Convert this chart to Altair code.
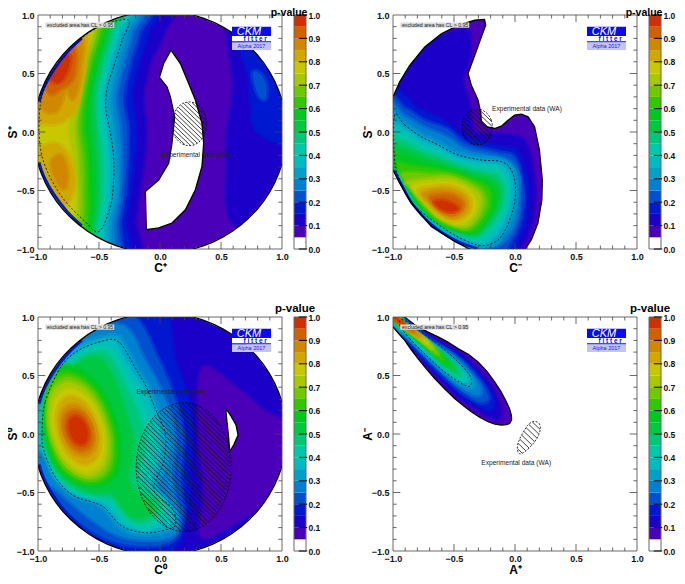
import altair as alt
import pandas as pd

FONT = "Liberation Sans"
LEVEL_COLORS = {
    5: "#4a00b8", 10: "#1a00c8", 15: "#0018d0", 20: "#0050d0", 25: "#0080d0", 30: "#00a0c8",
    35: "#00bcc0", 40: "#00c8a8", 45: "#00c878", 50: "#00c840", 55: "#00c820", 60: "#30c800",
    65: "#70c800", 70: "#a8c800", 75: "#c8c800", 80: "#d0a800", 85: "#d08800", 90: "#d06000", 95: "#d03000",
}
CIRCLE = [(-1.035,0),(-1.019,-.18),(-.973,-.354),(-.896,-.518),(-.793,-.665),(-.665,-.793),(-.518,-.896),(-.354,-.973),(-.18,-1.019),
          (0,-1.035),(.18,-1.019),(.354,-.973),(.518,-.896),(.665,-.793),(.793,-.665),(.896,-.518),(.973,-.354),(1.019,-.18),
          (1.035,0),(1.019,.18),(.973,.354),(.896,.518),(.793,.665),(.665,.793),(.518,.896),(.354,.973),(.18,1.019),
          (0,1.035),(-.18,1.019),(-.354,.973),(-.518,.896),(-.665,.793),(-.793,.665),(-.896,.518),(-.973,.354),(-1.019,.18)]
RIM_TOP = [(-.99,.26),(-.95,.38),(-.87,.53),(-.76,.68),(-.64,.8)]
RIM_BOTTOM = [(-.99,-.26),(-.95,-.38),(-.87,-.53),(-.76,-.68),(-.64,-.8)]

# ---------- panel 1 ----------
P1_Y = [1.15,.85,.6,.3,.05,-.2,-.5,-.75,-1.15]
P1_CURVES = {
    10: [.02,.03,-.08,-.14,-.12,-.13,-.17,-.2,-.26],
    15: [-.08,-.1,-.17,-.23,-.2,-.21,-.24,-.28,-.34],
    20: [-.14,-.17,-.24,-.3,-.27,-.27,-.29,-.33,-.42],
    25: [-.2,-.23,-.3,-.36,-.33,-.32,-.33,-.37,-.48],
    30: [-.25,-.28,-.35,-.41,-.38,-.36,-.36,-.41,-.53],
    35: [-.3,-.33,-.4,-.46,-.44,-.41,-.41,-.45,-.57],
    40: [-.33,-.36,-.43,-.49,-.47,-.44,-.44,-.48,-.6],
    45: [-.36,-.39,-.46,-.52,-.51,-.48,-.48,-.51,-.63],
    50: [-.39,-.42,-.49,-.55,-.54,-.52,-.51,-.54,-.66],
    55: [-.42,-.45,-.52,-.58,-.58,-.56,-.55,-.57,-.69],
    60: [-.45,-.48,-.55,-.61,-.63,-.6,-.59,-.6,-.72],
    65: [-.48,-.51,-.58,-.64,-.67,-.64,-.63,-.64,-.75],
    70: [-.51,-.54,-.61,-.66,-.7,-.68,-.67,-.68,-.79],
    75: [-.54,-.57,-.64,-.69,-.76,-.73,-.7,-.72,-.83],
}
P1_ISLANDS = [
    (10,[(.55,.95),(.6,.4),(.55,0),(.55,-.3),(.55,-.65),(.65,-.8),(.85,-.55),(1.1,-.2),(1.2,.3),(1.0,.8),(.75,.95)]),
    (15,[(.65,.75),(.72,.5),(.75,.2),(.8,0),(1.1,-.1),(1.2,.3),(.98,.65),(.8,.8)]),
    (20,[(.76,.5),(.8,.33),(.86,.28),(.87,.4),(.82,.5)]),
    (80,[(-1.1,.6),(-.78,.83),(-.6,.88),(-.61,.6),(-.64,.4),(-.69,.2),(-.78,.1),(-.85,.07),(-.94,.07),(-1.1,.1)]),
    (85,[(-1.1,.6),(-.8,.8),(-.64,.8),(-.65,.55),(-.68,.35),(-.72,.28),(-.77,.36),(-.82,.22),(-.87,.17),(-.97,.22)]),
    (90,[(-.97,.5),(-.85,.72),(-.7,.72),(-.7,.5),(-.74,.42),(-.8,.38),(-.9,.33)]),
    (95,[(-.92,.55),(-.82,.66),(-.74,.65),(-.76,.52),(-.82,.43),(-.89,.44)]),
    (80,[(-.98,-.15),(-.85,-.1),(-.75,-.2),(-.7,-.4),(-.73,-.56),(-.8,-.62),(-.88,-.5),(-.96,-.3)]),
    (85,[(-.89,-.25),(-.81,-.2),(-.76,-.33),(-.77,-.47),(-.82,-.47),(-.87,-.37)]),
]
P1_HOLE = [(.09,.70),(.167,.585),(.235,.415),(.29,.273),(.344,.074),(.358,-.097),(.344,-.295),(.29,-.494),(.208,-.665),(.098,-.778),
           (-.011,-.82),(-.112,-.835),(-.12,-.508),(-.011,-.41),(.071,-.267),(.098,-.097),(.12,.13),(.085,.30),(.057,.386),(-.005,.466),(.03,.585)]
P1_DASH = [(-.257,.955),(-.31,.78),(-.38,.557),(-.434,.372),(-.443,.19),(-.407,-.01),(-.38,-.21),(-.38,-.41),(-.407,-.636),(-.5,-.85),
           (-.62,-.76),(-.8,-.56),(-.93,-.32),(-.985,-.1),(-.985,.2),(-.93,.42),(-.8,.63),(-.62,.82),(-.45,.92)]
P1_ELLIPSE = [(.383,.07),(.372,.142),(.341,.202),(.295,.243),(.24,.257),(.185,.243),(.139,.202),(.108,.142),(.097,.07),(.108,-.002),
              (.139,-.062),(.185,-.103),(.24,-.117),(.295,-.103),(.341,-.062),(.372,-.002)]

# ---------- panel 2 ----------
P2_OUTLINE = [(-1.03,.33),(-1,.30),(-.945,.43),(-.863,.57),(-.74,.727),(-.604,.84),(-.467,.912),(-.33,.955),(-.25,.963),(-.24,.912),(-.276,.8125),
              (-.33,.656),(-.385,.5),(-.358,.40),(-.303,.273),(-.28,.159),(-.276,.088),(-.235,.045),(-.167,.03),(-.112,.05),(-.057,.10),
              (-.003,.145),(.052,.153),(.107,.13),(.16,.045),(.2,-.153),(.224,-.41),(.22,-.58),(.188,-.778),(.134,-.92),(.065,-1.03),
              (-.317,-1.03),(-.495,-.935),(-.686,-.807),(-.85,-.608),(-.945,-.4375),(-1,-.324),(-1.03,-.3)]
P2_LEVELS = [
    (10,[(-1.1,.4),(-.9,.62),(-.7,.78),(-.5,.86),(-.38,.86),(-.38,.62),(-.43,.45),(-.38,.25),(-.36,.08),(-.33,-.01),(-.2,-.02),(0,-.03),(.09,-.1),(.14,-.3),(.16,-.55),(.13,-.8),(.06,-.95),(-.1,-1.1),(-1.1,-1.1)]),
    (15,[(-1.1,.33),(-.9,.3),(-.8,.2),(-.6,.1),(-.4,-.05),(-.15,-.12),(0,-.15),(.05,-.25),(.1,-.45),(.09,-.7),(.03,-.9),(-.1,-1.1),(-1.1,-1.1)]),
    (20,[(-1.1,.26),(-.9,.2),(-.75,.1),(-.55,.02),(-.4,-.1),(-.15,-.17),(-.02,-.2),(.03,-.3),(.06,-.47),(.05,-.7),(-.02,-.9),(-.2,-1.05),(-1.1,-1.1)]),
    (25,[(-1.1,.21),(-.9,.13),(-.75,.04),(-.55,-.05),(-.4,-.15),(-.15,-.21),(-.05,-.25),(.02,-.35),(.03,-.48),(.02,-.68),(-.05,-.87),(-.25,-1.0),(-1.1,-1.1)]),
    (30,[(-1.15,.17),(-.99,.15),(-.9,.07),(-.77,-.02),(-.63,-.09),(-.47,-.18),(-.28,-.22),(-.11,-.24),(-.02,-.31),(.01,-.46),(-.01,-.67),(-.1,-.87),(-.28,-1.0),(-1.15,-1.15)]),
    (35,[(-1.15,.1),(-1,.08),(-.9,.02),(-.77,-.07),(-.63,-.13),(-.47,-.22),(-.28,-.26),(-.13,-.28),(-.06,-.34),(-.03,-.47),(-.05,-.66),(-.13,-.84),(-.25,-.95),(-.42,-.91),(-.63,-.80),(-.84,-.62),(-.95,-.42),(-1.1,-.3)]),
    (40,[(-1.1,.03),(-.9,-.03),(-.77,-.11),(-.63,-.17),(-.47,-.25),(-.28,-.29),(-.15,-.31),(-.09,-.37),(-.06,-.48),(-.08,-.65),(-.16,-.81),(-.28,-.92),(-.42,-.89),(-.63,-.79),(-.83,-.61),(-.94,-.41),(-1.1,-.3)]),
    (45,[(-1.1,-.03),(-.9,-.09),(-.77,-.16),(-.63,-.21),(-.47,-.28),(-.3,-.33),(-.18,-.35),(-.12,-.4),(-.09,-.49),(-.11,-.64),(-.19,-.78),(-.3,-.89),(-.42,-.875),(-.63,-.78),(-.82,-.6),(-.93,-.41),(-1.1,-.3)]),
    (50,[(-1.1,-.09),(-.9,-.14),(-.77,-.2),(-.63,-.25),(-.47,-.31),(-.32,-.36),(-.2,-.39),(-.15,-.43),(-.12,-.5),(-.14,-.63),(-.21,-.76),(-.31,-.87),(-.43,-.865),(-.63,-.77),(-.81,-.6),(-.92,-.4),(-1.1,-.27)]),
    (55,[(-1.05,-.17),(-.9,-.2),(-.77,-.25),(-.62,-.29),(-.47,-.34),(-.33,-.39),(-.23,-.42),(-.18,-.47),(-.16,-.53),(-.17,-.63),(-.24,-.75),(-.32,-.85),(-.43,-.85),(-.63,-.76),(-.8,-.59),(-.91,-.4)]),
    (60,[(-.96,-.27),(-.85,-.29),(-.72,-.31),(-.6,-.33),(-.47,-.36),(-.35,-.41),(-.26,-.45),(-.21,-.5),(-.2,-.56),(-.21,-.65),(-.26,-.74),(-.33,-.83),(-.43,-.835),(-.63,-.75),(-.79,-.58),(-.9,-.4)]),
    (65,[(-.93,-.36),(-.82,-.35),(-.7,-.36),(-.58,-.36),(-.46,-.39),(-.35,-.44),(-.28,-.49),(-.25,-.54),(-.24,-.6),(-.26,-.67),(-.31,-.76),(-.38,-.82),(-.46,-.82),(-.63,-.74),(-.78,-.58),(-.88,-.44)]),
    (70,[(-.89,-.43),(-.8,-.41),(-.68,-.4),(-.55,-.39),(-.45,-.42),(-.36,-.47),(-.3,-.52),(-.28,-.58),(-.29,-.64),(-.32,-.72),(-.38,-.79),(-.47,-.8),(-.62,-.73),(-.77,-.58),(-.85,-.47)]),
    (75,[(-.84,-.47),(-.75,-.44),(-.63,-.43),(-.53,-.43),(-.44,-.46),(-.37,-.51),(-.33,-.57),(-.32,-.63),(-.35,-.7),(-.4,-.76),(-.48,-.78),(-.62,-.72),(-.75,-.58)]),
    (80,[(-.79,-.5),(-.68,-.47),(-.56,-.46),(-.46,-.49),(-.39,-.54),(-.36,-.6),(-.37,-.67),(-.42,-.73),(-.5,-.75),(-.62,-.7),(-.73,-.59)]),
    (85,[(-.75,-.53),(-.65,-.5),(-.55,-.5),(-.46,-.53),(-.41,-.58),(-.4,-.64),(-.44,-.7),(-.52,-.73),(-.62,-.68),(-.7,-.6)]),
    (90,[(-.7,-.56),(-.62,-.54),(-.54,-.54),(-.47,-.57),(-.43,-.62),(-.46,-.68),(-.53,-.7),(-.62,-.66)]),
    (95,[(-.66,-.6),(-.58,-.59),(-.5,-.62),(-.47,-.66),(-.53,-.68),(-.6,-.66)]),
]
P2_DASH = [(-.986,.145),(-.904,.06),(-.768,-.04),(-.63,-.11),(-.467,-.196),(-.276,-.239),(-.112,-.253),(-.03,-.324),(.003,-.466),(-.016,-.665),
           (-.112,-.892),(-.249,-.97),(-.413,-.925),(-.63,-.79),(-.85,-.6),(-.95,-.4),(-.99,-.2)]
P2_RIM = [(-.99,-.33),(-.935,-.44),(-.84,-.615),(-.68,-.795),(-.49,-.925),(-.31,-.995)]
P2_ELLIPSE = [(-.185,.043),(-.195,.102),(-.222,.151),(-.262,.184),(-.31,.196),(-.358,.184),(-.398,.151),(-.425,.102),(-.435,.043),(-.425,-.016),
              (-.398,-.065),(-.358,-.098),(-.31,-.11),(-.262,-.098),(-.222,-.065),(-.195,-.016)]

# ---------- panel 3 ----------
P3_LEVELS = [
    (5,[(.344,.56),(.62,.4),(.85,.2),(1.1,.02),(1.1,-.4),(.7,-.7),(.344,-.88),(.36,-.5),(.32,0)]),
    (15,[(-1.2,.3),(-.85,.85),(-.3,1.15),(.02,1.15),(.12,.65),(.23,.3),(.26,0),(.24,-.4),(.22,-.72),(.1,-.98),(-.3,-1.0),(-.6,-.87),(-.9,-.6),(-1.2,-.3)]),
    (20,[(-1.2,.3),(-.75,.88),(-.25,1.02),(-.02,.65),(.12,.3),(.19,0),(.17,-.4),(.19,-.72),(.07,-.93),(-.3,-.94),(-.6,-.8),(-.9,-.52),(-1.2,-.2)]),
    (25,[(-1.2,.3),(-.75,.8),(-.32,.93),(-.12,.62),(.04,.3),(.12,0),(.1,-.4),(.16,-.75),(.06,-.89),(-.3,-.88),(-.57,-.72),(-.87,-.46),(-1.2,-.2)]),
    (30,[(-1.2,.2),(-.95,.32),(-.8,.62),(-.64,.77),(-.42,.84),(-.33,.82),(-.27,.72),(-.18,.55),(-.09,.4),(-.02,.22),(.06,0),(.05,-.24),(-.03,-.47),(.11,-.63),(.13,-.78),(.05,-.83),(-.12,-.86),(-.31,-.81),(-.45,-.65),(-.53,-.59),(-.72,-.52),(-.87,-.37),(-.97,-.15),(-1.2,-.1)]),
    (35,[(-1.2,.1),(-.93,.26),(-.78,.6),(-.62,.74),(-.44,.8),(-.36,.78),(-.31,.68),(-.22,.52),(-.13,.38),(-.06,.2),(.0,0),(-.01,-.22),(-.07,-.42),(.03,-.55),(.09,-.66),(.08,-.77),(-.02,-.8),(-.13,-.83),(-.3,-.77),(-.43,-.62),(-.52,-.57),(-.71,-.5),(-.86,-.36),(-.96,-.14)]),
    (40,[(-.97,.04),(-.95,.27),(-.8,.56),(-.62,.7),(-.46,.75),(-.39,.72),(-.33,.63),(-.26,.48),(-.18,.34),(-.11,.17),(-.06,0),(-.07,-.22),(-.12,-.4),(-.03,-.51),(.04,-.62),(.03,-.71),(-.05,-.77),(-.15,-.8),(-.28,-.74),(-.41,-.59),(-.52,-.55),(-.7,-.49),(-.85,-.35),(-.95,-.13)]),
    (45,[(-.96,.04),(-.94,.24),(-.79,.53),(-.62,.67),(-.48,.7),(-.41,.66),(-.35,.55),(-.28,.4),(-.22,.27),(-.17,.12),(-.14,0),(-.15,-.2),(-.19,-.38),(-.1,-.5),(-.01,-.58),(-.01,-.67),(-.08,-.73),(-.17,-.76),(-.28,-.7),(-.39,-.55),(-.52,-.53),(-.69,-.47),(-.84,-.34),(-.94,-.12)]),
    (50,[(-.95,.04),(-.93,.2),(-.78,.5),(-.62,.63),(-.5,.65),(-.42,.55),(-.36,.42),(-.31,.28),(-.27,.13),(-.23,0),(-.23,-.2),(-.26,-.38),(-.18,-.52),(-.07,-.58),(-.05,-.65),(-.12,-.7),(-.22,-.71),(-.31,-.62),(-.4,-.5),(-.52,-.5),(-.68,-.45),(-.82,-.33),(-.93,-.1)]),
    (55,[(-.34,.03),(-.514,.428),(-.782,.59),(-.93,.428),(-.94,.03),(-.826,-.31),(-.56,-.44),(-.36,-.34)]),
    (60,[(-.38,.03),(-.535,.385),(-.77,.53),(-.92,.385),(-.93,.03),(-.805,-.29),(-.57,-.42),(-.393,-.31)]),
    (65,[(-.41,.03),(-.55,.357),(-.762,.49),(-.9,.357),(-.91,.03),(-.79,-.27),(-.578,-.39),(-.42,-.28)]),
    (70,[(-.44,.03),(-.565,.321),(-.752,.44),(-.892,.321),(-.9,.03),(-.775,-.25),(-.588,-.36),(-.448,-.25)]),
    (75,[(-.47,.03),(-.578,.279),(-.74,.38),(-.862,.279),(-.87,.03),(-.762,-.219),(-.6,-.32),(-.478,-.219)]),
    (80,[(-.5,.03),(-.592,.236),(-.728,.32),(-.832,.236),(-.84,.03),(-.748,-.176),(-.612,-.26),(-.508,-.176)]),
    (85,[(-.53,.03),(-.602,.186),(-.714,.25),(-.801,.186),(-.81,.03),(-.738,-.126),(-.626,-.19),(-.539,-.126)]),
    (90,[(-.56,.03),(-.616,.151),(-.704,.2),(-.772,.151),(-.78,.03),(-.724,-.091),(-.636,-.14),(-.568,-.091)]),
    (95,[(-.595,.03),(-.634,.115),(-.694,.15),(-.74,.115),(-.745,.03),(-.706,-.055),(-.646,-.09),(-.6,-.055)]),
]
P3_HOLE = [(.544,.213),(.577,.162),(.623,.077),(.64,-.009),(.604,-.094),(.571,-.15),(.563,-.037),(.549,.105),(.541,.19)]
P3_DASH = [(-.967,0),(-.94,.276),(-.803,.588),(-.64,.73),(-.42,.807),(-.34,.787),(-.284,.716),(-.2,.56),(-.12,.418),(-.04,.219),(.044,0),(.03,-.236),
           (-.05,-.477),(.1,-.634),(.125,-.776),(.044,-.82),(-.12,-.844),(-.31,-.79),(-.45,-.634),(-.53,-.59),(-.72,-.52),(-.86,-.364),(-.95,-.15)]
P3_ELLIPSE = [(.585,-.283),(.555,-.072),(.471,.106),(.344,.225),(.195,.267),(.046,.225),(-.081,.106),(-.165,-.072),(-.195,-.283),(-.165,-.494),
              (-.081,-.672),(.046,-.791),(.195,-.833),(.344,-.791),(.471,-.672),(.555,-.494)]

# ---------- panel 4 ----------
P4_OUTLINE = [(-1.03,.89),(-1,.915),(-.95,.855),(-.904,.80),(-.85,.72),(-.795,.645),(-.725,.555),(-.658,.474),(-.575,.385),(-.495,.304),(-.425,.243),(-.358,.19),
              (-.29,.143),(-.221,.105),(-.165,.085),(-.112,.077),(-.07,.08),(-.044,.09),(-.028,.12),(-.03,.162),(-.045,.215),(-.071,.276),(-.115,.363),(-.167,.446),
              (-.23,.535),(-.303,.616),(-.38,.68),(-.467,.73),(-.55,.785),(-.63,.83),(-.70,.865),(-.768,.90),(-.83,.94),(-.89,.986),(-.92,1.03),(-1.03,1.03)]
P4_LEVELS = [
    (10,[(-1.05,.93),(-.9,.81),(-.78,.66),(-.64,.5),(-.48,.33),(-.34,.23),(-.22,.15),(-.14,.13),(-.12,.2),(-.16,.34),(-.26,.5),(-.4,.65),(-.56,.76),(-.72,.85),(-.86,.95),(-.95,1.05)]),
    (15,[(-1.05,.93),(-.9,.82),(-.77,.67),(-.63,.52),(-.47,.36),(-.34,.27),(-.24,.21),(-.18,.22),(-.18,.3),(-.24,.43),(-.33,.55),(-.44,.65),(-.58,.74),(-.73,.83),(-.87,.93),(-.95,1.05)]),
    (20,[(-1.05,.93),(-.9,.83),(-.76,.68),(-.62,.53),(-.46,.38),(-.35,.3),(-.27,.27),(-.22,.3),(-.24,.38),(-.31,.48),(-.4,.59),(-.5,.68),(-.62,.76),(-.75,.85),(-.88,.95),(-.96,1.05)]),
    (25,[(-1.05,.93),(-.9,.84),(-.75,.69),(-.61,.55),(-.46,.41),(-.37,.35),(-.3,.33),(-.28,.38),(-.31,.45),(-.38,.54),(-.47,.64),(-.58,.72),(-.72,.81),(-.86,.93),(-.95,1.03)]),
    (30,[(-1.05,.93),(-.9,.85),(-.74,.69),(-.6,.55),(-.45,.43),(-.37,.4),(-.34,.41),(-.35,.47),(-.42,.56),(-.52,.66),(-.65,.75),(-.8,.85),(-.92,.97),(-1.0,1.05)]),
    (35,[(-1.05,.96),(-.93,.9),(-.78,.75),(-.62,.6),(-.47,.47),(-.39,.44),(-.38,.47),(-.44,.55),(-.54,.65),(-.67,.75),(-.82,.86),(-.93,.96),(-1,1.05)]),
    (40,[(-1.03,.98),(-.92,.9),(-.77,.75),(-.62,.61),(-.49,.49),(-.42,.47),(-.42,.51),(-.48,.58),(-.57,.67),(-.7,.78),(-.84,.88),(-.95,.98)]),
    (45,[(-1.02,1),(-.9,.89),(-.76,.76),(-.62,.63),(-.52,.53),(-.46,.5),(-.46,.54),(-.52,.61),(-.6,.69),(-.73,.79),(-.85,.89),(-.96,1)]),
    (50,[(-.98,.97),(-.89,.89),(-.76,.77),(-.63,.65),(-.55,.57),(-.5,.54),(-.5,.58),(-.57,.65),(-.65,.72),(-.76,.81),(-.87,.9),(-.97,1)]),
    (55,[(-.97,.97),(-.88,.88),(-.76,.78),(-.65,.67),(-.58,.6),(-.55,.59),(-.55,.62),(-.62,.69),(-.69,.75),(-.78,.82),(-.88,.91),(-.97,1)]),
    (60,[(-.97,.97),(-.87,.88),(-.75,.78),(-.66,.69),(-.61,.64),(-.59,.64),(-.62,.69),(-.7,.76),(-.8,.84),(-.89,.92),(-.97,1)]),
    (65,[(-.97,.97),(-.87,.88),(-.76,.79),(-.68,.72),(-.65,.69),(-.63,.69),(-.66,.73),(-.74,.79),(-.82,.85),(-.9,.92),(-.97,1)]),
    (70,[(-.97,.97),(-.86,.88),(-.76,.8),(-.71,.75),(-.68,.73),(-.68,.75),(-.74,.81),(-.83,.87),(-.91,.93),(-.97,1)]),
    (75,[(-.97,.97),(-.87,.89),(-.78,.82),(-.73,.78),(-.72,.79),(-.78,.84),(-.86,.89),(-.92,.94),(-.97,1)]),
    (80,[(-.97,.97),(-.86,.88),(-.78,.83),(-.76,.82),(-.79,.85),(-.86,.9),(-.93,.95)]),
    (85,[(-.98,.98),(-.88,.9),(-.8,.84),(-.8,.86),(-.87,.91),(-.94,.96)]),
    (90,[(-.98,.98),(-.89,.91),(-.84,.88),(-.85,.9),(-.91,.94),(-.96,.98)]),
    (95,[(-.98,.98),(-.92,.94),(-.9,.93),(-.92,.95),(-.98,1)]),
]
P4_DASH = [(-.945,.93),(-.863,.815),(-.727,.673),(-.577,.531),(-.413,.418),(-.363,.418),(-.372,.503),(-.495,.645),(-.658,.787),(-.904,.97)]
P4_ELLIPSE = [(.165,.108),(.198,.09),(.208,.05),(.195,-.005),(.165,-.06),(.12,-.115),(.075,-.155),(.045,-.17),(.025,-.155),(.02,-.1),(.04,-.04),(.07,.02),(.105,.075),(.135,.1)]

# ---------- shared decoration ----------
MAJOR = [-.5, 0, .5]
MINOR = [-.9,-.8,-.7,-.6,-.4,-.3,-.2,-.1,.1,.2,.3,.4,.6,.7,.8,.9]
AXIS_VALUES = [-1, -.5, 0, .5, 1]
LOGO_RECTS = [(.59,.91,.82,.90,"#0a0af0"),(.59,.91,.765,.82,"#ffffff"),(.59,.91,.765,.775,"#0a0af0"),(.59,.91,.70,.765,"#c4c4f2")]
CB_TICKS = [.1,.2,.3,.4,.5,.6,.7,.8,.9,1.0]

XS = alt.Scale(domain=[-1, 1], nice=False, zero=False)
W, H, CBW = 244, 234, 12


def ex(field="x"):
    return alt.X(f"{field}:Q", scale=XS, axis=None)


def ey(field="y"):
    return alt.Y(f"{field}:Q", scale=XS, axis=None)


def polys(items):
    rows = []
    for i, (lev, pts) in enumerate(items):
        col = LEVEL_COLORS[lev] if isinstance(lev, int) else lev
        for k, (x, y) in enumerate(pts):
            rows.append(dict(x=x, y=y, o=k, id=i, c=col))
    return pd.DataFrame(rows)


def fill_layer(items, interpolate="cardinal-closed", soft=False):
    enc = dict(x=ex(), y=ey(), order="o:Q", detail="id:N", color=alt.Color("c:N", scale=None))
    if soft:
        enc["stroke"] = alt.Stroke("c:N", scale=None)
        mk = alt.Chart(polys(items)).mark_line(filled=True, interpolate=interpolate, clip=True, strokeWidth=5, strokeOpacity=0.5)
    else:
        mk = alt.Chart(polys(items)).mark_line(filled=True, interpolate=interpolate, clip=True, strokeWidth=0)
    return mk.encode(**enc)


def stroke_layer(pts, color="black", width=1.0, dash=None, interpolate="linear-closed"):
    kw = dict(strokeDash=dash) if dash else {}
    df = pd.DataFrame([dict(x=x, y=y, o=k) for k, (x, y) in enumerate(pts)])
    return alt.Chart(df).mark_line(color=color, strokeWidth=width, interpolate=interpolate, clip=True, **kw).encode(
        x=ex(), y=ey(), order="o:Q")


def mask(outline):
    area = sum(outline[i][0] * outline[(i + 1) % len(outline)][1] - outline[(i + 1) % len(outline)][0] * outline[i][1] for i in range(len(outline)))
    pts = list(outline) if area > 0 else list(reversed(outline))
    j = min(range(len(pts)), key=lambda i: pts[i][0])
    pts = pts[j:] + pts[:j]
    y0 = pts[0][1]
    return [(-2, y0), (-2, 2), (2, 2), (2, -2), (-2, -2), (-2, y0)] + pts + [pts[0]]


def hatch(outline, dc):
    # fill pattern: parallel diagonals clipped by the ellipse outline
    sums = [x + y for x, y in outline]
    rows, c, n = [], min(sums) + dc / 2, 0
    while c < max(sums):
        hits = []
        m = len(outline)
        for i in range(m):
            (x0, y0), (x1, y1) = outline[i], outline[(i + 1) % m]
            s0, s1 = x0 + y0 - c, x1 + y1 - c
            if s0 * s1 < 0:
                t = s0 / (s0 - s1)
                hits.append((x0 + t * (x1 - x0), y0 + t * (y1 - y0)))
        if len(hits) >= 2:
            hits.sort()
            rows += [dict(x=hits[0][0], y=hits[0][1], o=0, id=n), dict(x=hits[-1][0], y=hits[-1][1], o=1, id=n)]
            n += 1
        c += dc
    return alt.Chart(pd.DataFrame(rows)).mark_line(color="#111", strokeWidth=0.8).encode(x=ex(), y=ey(), order="o:Q", detail="id:N")


def ticks_layer():
    rows = []
    for v in MAJOR + MINOR:
        l = .06 if v in MAJOR else .03
        rows += [dict(x=v, x2=v, y=-1, y2=-1 + l), dict(x=v, x2=v, y=1, y2=1 - l),
                 dict(x=-1, x2=-1 + l, y=v, y2=v), dict(x=1, x2=1 - l, y=v, y2=v)]
    for a, b, c, d in [(-1, 1, -1, -1), (-1, 1, 1, 1), (-1, -1, -1, 1), (1, 1, -1, 1)]:
        rows.append(dict(x=a, x2=b, y=c, y2=d))
    return alt.Chart(pd.DataFrame(rows)).mark_rule(color="#444", strokeWidth=0.8).encode(x=ex(), x2="x2:Q", y=ey(), y2="y2:Q")


def text_layer(x, y, s, size, color="#222", **kw):
    return alt.Chart(pd.DataFrame([dict(x=x, y=y, s=s)])).mark_text(fontSize=size, color=color, font=FONT, **kw).encode(x=ex(), y=ey(), text="s:N")


def logo_layers():
    df = pd.DataFrame([dict(x=a, x2=b, y=c, y2=d, c=e) for a, b, c, d, e in LOGO_RECTS])
    rects = alt.Chart(df).mark_rect().encode(x=ex(), x2="x2:Q", y=ey(), y2="y2:Q", color=alt.Color("c:N", scale=None))
    box = alt.Chart(pd.DataFrame([dict(x=-.94, x2=-.375, y=.935, y2=.89)])).mark_rect(color="#dcdcdc").encode(x=ex(), x2="x2:Q", y=ey(), y2="y2:Q")
    return [box, text_layer(-.655, .912, "excluded area has CL > 0.95", 5.2),
            rects, text_layer(.73, .858, "CKM", 11, color="white", fontStyle="italic"),
            text_layer(.78, .793, "f i t t e r", 6.5, color="#0a0af0", fontWeight="bold"),
            text_layer(.75, .733, "Alpha 2017", 5.5, color="#2020e0")]


def axes_layer(xt, yt):
    df = pd.DataFrame([dict(x=-1, y=-1), dict(x=1, y=1)])
    return alt.Chart(df).mark_point(opacity=0).encode(
        x=alt.X("x:Q", scale=XS, title=xt, axis=alt.Axis(values=AXIS_VALUES, format=".1f", ticks=False, domain=False, grid=False, labelPadding=3, titlePadding=1, labelFlush=False, labelOverlap=False)),
        y=alt.Y("y:Q", scale=XS, title=yt, axis=alt.Axis(values=AXIS_VALUES, format=".1f", ticks=False, domain=False, grid=False, labelPadding=4, titlePadding=-3, labelOverlap=False)))


def panel(xt, yt, levels, outline, holes, dash, rims, ellipse, dc, lab, base=5, outline_interp="linear-closed"):
    ls = [axes_layer(xt, yt), fill_layer([(base, outline)], "linear-closed"), fill_layer(levels, soft=True),
          fill_layer([("#ffffff", mask(outline))], "linear")]
    if holes:
        ls.append(fill_layer([("#ffffff", holes)], "linear-closed"))
    for rim in rims:
        ls.append(stroke_layer(rim, color="#0018d0", width=2.5, interpolate="cardinal"))
    ls.append(stroke_layer(outline, width=1.3, interpolate=outline_interp))
    if holes:
        ls.append(stroke_layer(holes, width=1.3))
    ls.append(stroke_layer(dash, width=0.8, dash=[2, 2], interpolate="cardinal-closed"))
    ls.append(hatch(ellipse, dc))
    ls.append(stroke_layer(ellipse, width=0.8, dash=[2, 1.5], interpolate="cardinal-closed"))
    ls.append(text_layer(lab[0], lab[1], "Experimental data (WA)", 6.6))
    ls += logo_layers() + [ticks_layer()]
    return alt.layer(*ls).resolve_axis(x="independent", y="independent").properties(width=W, height=H)


def colorbar(font_size, title_offset, dy, dx):
    bands = [dict(y=0, y2=.05, c="#ffffff")] + [dict(y=k / 100, y2=(k + 5) / 100, c=v) for k, v in LEVEL_COLORS.items()]
    bscale = alt.Scale(domain=[0, 1], nice=False)
    xcb = alt.Scale(domain=[0, 1], nice=False)
    b = alt.Chart(pd.DataFrame(bands)).mark_rect().encode(
        x=alt.value(0), x2=alt.value(CBW),
        y=alt.Y("y:Q", scale=bscale, title=None, axis=alt.Axis(orient="right", values=[0, .1, .2, .3, .4, .5, .6, .7, .8, .9, 1], format=".1f", ticks=False, domain=False, grid=False, labelPadding=2, labelFontSize=8.5, labelOverlap=False)),
        y2="y2:Q", color=alt.Color("c:N", scale=None))
    frame = alt.Chart(pd.DataFrame([dict(a=0, b=1, y=0, y2=0), dict(a=0, b=1, y=1, y2=1), dict(a=0, b=0, y=0, y2=1), dict(a=1, b=1, y=0, y2=1)])).mark_rule(color="#666", strokeWidth=1).encode(
        x=alt.X("a:Q", scale=xcb, axis=None), x2="b:Q", y=alt.Y("y:Q", scale=bscale, axis=None), y2="y2:Q")
    t = alt.Chart(pd.DataFrame([dict(a=.4, b=1.1, y=v) for v in CB_TICKS + [0]])).mark_rule(color="#111", strokeWidth=1.1).encode(
        x=alt.X("a:Q", scale=xcb, axis=None), x2="b:Q", y=alt.Y("y:Q", scale=bscale, axis=None))
    return alt.layer(b, frame, t).resolve_axis(y="independent").properties(
        width=CBW, height=H,
        title=alt.TitleParams("p-value", fontSize=font_size, fontWeight="bold", font=FONT, anchor="middle", frame="group", offset=title_offset, dx=dx, dy=dy, color="black"))


def spacer():
    return alt.Chart(pd.DataFrame([dict(x=0)])).mark_point(opacity=0).encode(
        x=alt.X("x:Q", axis=None), y=alt.Y("x:Q", axis=None)).properties(width=63, height=H)


p1_levels = [(k, [(x, y) for x, y in zip(v, P1_Y)] + [(-1.4, -1.4), (-1.4, 1.4)]) for k, v in P1_CURVES.items()] + P1_ISLANDS
p1_levels.sort(key=lambda r: r[0])
p1 = panel("C⁺", "S⁺", p1_levels, CIRCLE, P1_HOLE, P1_DASH, [RIM_TOP, RIM_BOTTOM], P1_ELLIPSE, .038, (.298, -.2), outline_interp="cardinal-closed")
p2 = panel("C⁻", "S⁻", P2_LEVELS, P2_OUTLINE, None, P2_DASH, [P2_RIM], P2_ELLIPSE, .038, (.098, .2))
p3 = panel("C⁰", "S⁰", P3_LEVELS, CIRCLE, P3_HOLE, P3_DASH, [RIM_TOP, RIM_BOTTOM], P3_ELLIPSE, .038, (.093, .355), base=10, outline_interp="cardinal-closed")
p4 = panel("A⁺", "A⁻", P4_LEVELS, P4_OUTLINE, None, P4_DASH, [], P4_ELLIPSE, .05, (.01, -.25))

chart = alt.concat(
    p1, colorbar(10.5, 1, 8, -11), spacer(), p2, colorbar(10.5, 1, 8, -11),
    p3, colorbar(11.5, 6, 7, -5), spacer(), p4, colorbar(11.5, 6, 7, -5),
    columns=5, spacing=alt.RowColnumber(row=68, column=12), bounds="flush", align="each",
).properties(padding=alt.Padding(left=-2, top=-1, right=2, bottom=0)).configure_view(stroke=None).configure_axis(
    labelFont=FONT, labelFontWeight="bold", labelFontSize=9, labelColor="#111",
    titleFont=FONT, titleFontWeight="bold", titleFontSize=12, titleColor="black",
)
chart.save("out.html", embed_options={"renderer": "svg", "actions": False})
